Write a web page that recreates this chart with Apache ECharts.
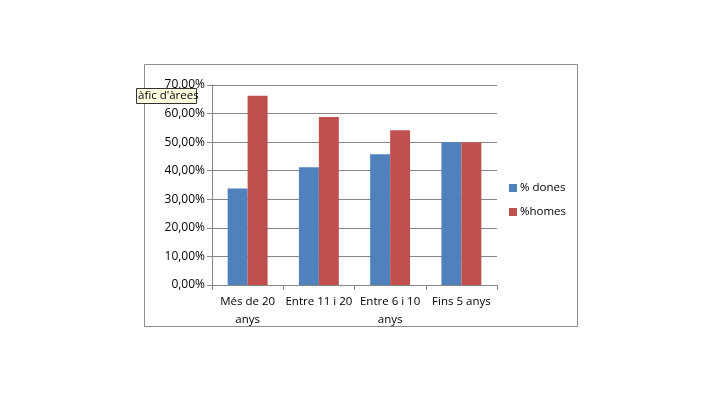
<!DOCTYPE html>
<html><head><meta charset="utf-8">
<script src="https://cdn.jsdelivr.net/npm/echarts@6/dist/echarts.min.js"></script>
<style>html,body{margin:0;padding:0;background:#fff}#c{width:726px;height:396px}</style>
</head><body><div id="c"></div>
<script>
const categories = ['Més de 20\nanys', 'Entre 11 i 20', 'Entre 6 i 10\nanys', 'Fins 5 anys'];
const dones = [33.8, 41.2, 45.8, 50.0];
const homes = [66.2, 58.8, 54.2, 50.0];
const seriesNames = ['% dones', '%homes'];
const tooltipText = "àfic d'àrees";

const font = 'Open Sans';
const chart = echarts.init(document.getElementById('c'), null, {renderer: 'canvas'});
chart.setOption({
  animation: false,
  backgroundColor: '#fff',
  graphic: [
    {type: 'rect', shape: {x: 144.5, y: 64.5, width: 433, height: 262}, style: {fill: 'none', stroke: '#8c8c8c', lineWidth: 1}, z: 0},
    {type: 'rect', shape: {x: 136.5, y: 88.5, width: 60, height: 15}, style: {fill: '#ffffe1', stroke: '#333', lineWidth: 1}, z: 100},
    {type: 'text', x: 138, y: 89.5, style: {text: tooltipText, font: '11.5px "' + font + '"', fill: '#000'}, z: 101}
  ],
  grid: {left: 212, right: 229, top: 85, bottom: 111},
  legend: {
    orient: 'vertical', left: 504, top: 177, itemWidth: 8, itemHeight: 8, itemGap: 12,
    icon: 'rect',
    textStyle: {fontFamily: font, fontSize: 11.5, color: '#000', padding: [0, 0, 0, -2]},
    data: seriesNames
  },
  xAxis: {
    type: 'category', data: categories,
    axisLine: {lineStyle: {color: '#868686'}},
    axisTick: {show: true, length: 5, lineStyle: {color: '#868686'}},
    axisLabel: {fontFamily: font, fontSize: 11.5, color: '#000', lineHeight: 18, margin: 8, interval: 0}
  },
  yAxis: {
    type: 'value', min: 0, max: 70, interval: 10,
    axisLine: {show: true, lineStyle: {color: '#868686'}},
    axisTick: {show: true, length: 5, lineStyle: {color: '#868686'}},
    splitLine: {lineStyle: {color: '#868686'}},
    axisLabel: {fontFamily: font, fontSize: 12, color: '#000', margin: 7,
      formatter: v => v.toFixed(2).replace('.', ',') + '%'}
  },
  series: [
    {name: seriesNames[0], type: 'bar', data: dones, barGap: '0%', barCategoryGap: '44%', itemStyle: {color: '#4f81bd'}},
    {name: seriesNames[1], type: 'bar', data: homes, itemStyle: {color: '#c0504d'}}
  ]
});
</script></body></html>
